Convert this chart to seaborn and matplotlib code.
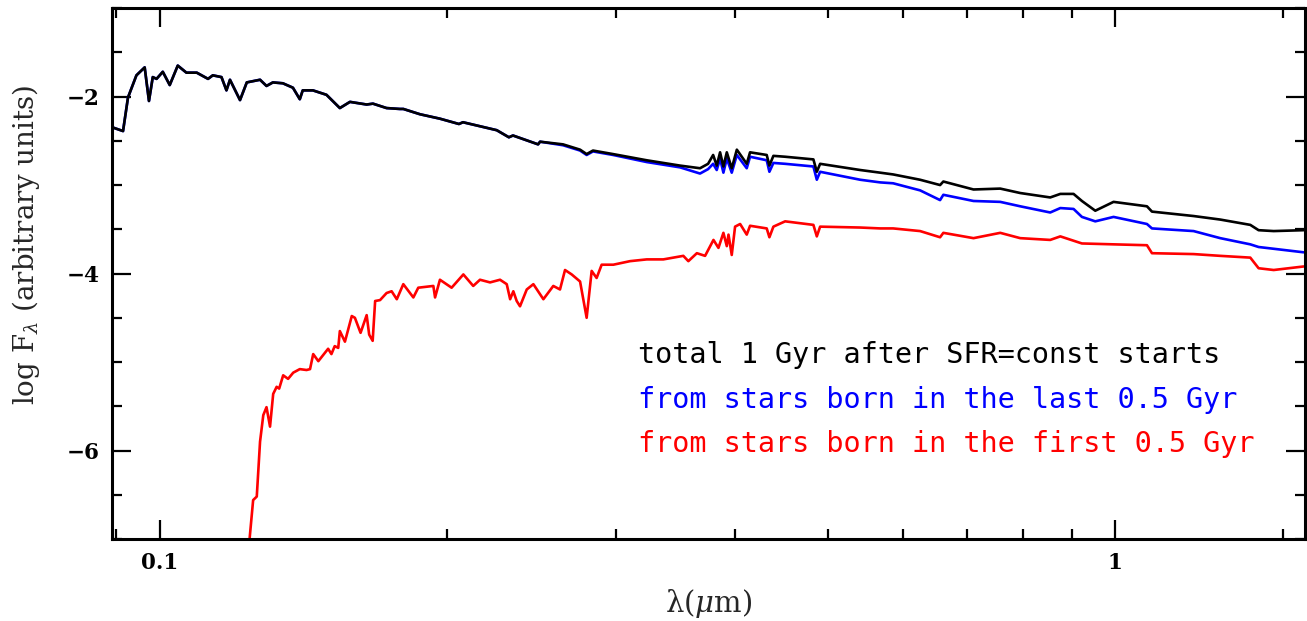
import numpy as np
import pandas as pd
import matplotlib
matplotlib.use("Agg")
import matplotlib.pyplot as plt
import seaborn as sns
from matplotlib.ticker import FixedLocator, NullFormatter, MultipleLocator

# ---- data ----
wl_tot = [0.0893, 0.0915, 0.0926, 0.0945, 0.0964, 0.0974, 0.0983, 0.0992, 0.1007, 0.1024,
          0.1044, 0.1066, 0.1093, 0.1123, 0.1136, 0.1160, 0.1174, 0.1184, 0.1213, 0.1233,
          0.1273, 0.1293, 0.1313, 0.1345, 0.1378, 0.1401, 0.1411, 0.1446, 0.1494, 0.1543,
          0.1581, 0.1646, 0.1671, 0.1727, 0.1783, 0.1798, 0.1872, 0.1964, 0.2056, 0.2076,
          0.2252, 0.2319, 0.2342, 0.2488, 0.2500, 0.2642, 0.2753, 0.2797, 0.2840, 0.2981,
          0.3233, 0.3503, 0.3676, 0.3748, 0.3794, 0.3827, 0.3858, 0.3889, 0.3921, 0.3968,
          0.4017, 0.4114, 0.4147, 0.4317, 0.4345, 0.4387, 0.4513, 0.4831, 0.4871, 0.4910,
          0.5408, 0.5675, 0.5855, 0.6248, 0.6556, 0.6608, 0.7106, 0.7579, 0.7953, 0.8549,
          0.8760, 0.9044, 0.9228, 0.9530, 0.9959, 1.0794, 1.0925, 1.2078, 1.2880, 1.3847,
          1.4127, 1.4650, 1.5746]
logf_tot = [-2.35, -2.39, -2.01, -1.76, -1.67, -2.05, -1.78, -1.80, -1.72, -1.87,
            -1.65, -1.73, -1.73, -1.80, -1.76, -1.78, -1.93, -1.81, -2.04, -1.84,
            -1.81, -1.88, -1.84, -1.85, -1.90, -2.03, -1.93, -1.93, -1.98, -2.13,
            -2.06, -2.09, -2.08, -2.13, -2.14, -2.14, -2.20, -2.25, -2.31, -2.29,
            -2.38, -2.46, -2.44, -2.54, -2.51, -2.54, -2.60, -2.65, -2.61, -2.65,
            -2.72, -2.78, -2.81, -2.76, -2.66, -2.78, -2.63, -2.79, -2.63, -2.81,
            -2.60, -2.76, -2.63, -2.66, -2.78, -2.67, -2.68, -2.71, -2.85, -2.76,
            -2.83, -2.86, -2.88, -2.94, -3.00, -2.96, -3.05, -3.04, -3.09, -3.14,
            -3.10, -3.10, -3.18, -3.29, -3.19, -3.24, -3.30, -3.35, -3.39, -3.45,
            -3.51, -3.52, -3.51]
logf_young = [-2.35, -2.39, -2.01, -1.76, -1.67, -2.05, -1.78, -1.80, -1.72, -1.87,
              -1.65, -1.73, -1.73, -1.80, -1.76, -1.78, -1.93, -1.81, -2.04, -1.84,
              -1.81, -1.88, -1.84, -1.85, -1.90, -2.03, -1.93, -1.93, -1.98, -2.13,
              -2.06, -2.09, -2.08, -2.13, -2.14, -2.14, -2.20, -2.25, -2.31, -2.29,
              -2.38, -2.46, -2.44, -2.54, -2.51, -2.55, -2.61, -2.66, -2.62, -2.66,
              -2.74, -2.80, -2.87, -2.82, -2.76, -2.83, -2.70, -2.86, -2.70, -2.86,
              -2.66, -2.81, -2.68, -2.72, -2.85, -2.75, -2.76, -2.79, -2.94, -2.85,
              -2.94, -2.97, -2.98, -3.06, -3.17, -3.11, -3.18, -3.19, -3.24, -3.31,
              -3.26, -3.27, -3.36, -3.41, -3.36, -3.44, -3.49, -3.52, -3.60, -3.67,
              -3.70, -3.72, -3.76]
wl_old = [0.1236, 0.1242, 0.1252, 0.1263, 0.1273, 0.1283, 0.1293, 0.1304, 0.1314, 0.1325,
          0.1333, 0.1346, 0.1362, 0.1379, 0.1401, 0.1424, 0.1436, 0.1447, 0.1465, 0.1500,
          0.1512, 0.1524, 0.1537, 0.1543, 0.1562, 0.1588, 0.1600, 0.1622, 0.1646, 0.1656,
          0.1670, 0.1680, 0.1700, 0.1727, 0.1748, 0.1770, 0.1798, 0.1842, 0.1864, 0.1933,
          0.1941, 0.1964, 0.2020, 0.2078, 0.2128, 0.2163, 0.2216, 0.2270, 0.2307, 0.2326,
          0.2344, 0.2363, 0.2382, 0.2421, 0.2460, 0.2520, 0.2581, 0.2623, 0.2655, 0.2698,
          0.2753, 0.2797, 0.2831, 0.2865, 0.2900, 0.2983, 0.3105, 0.3233, 0.3365, 0.3531,
          0.3574, 0.3648, 0.3721, 0.3797, 0.3843, 0.3889, 0.3921, 0.3937, 0.3968, 0.4000,
          0.4049, 0.4114, 0.4147, 0.4317, 0.4345, 0.4387, 0.4513, 0.4831, 0.4871, 0.4910,
          0.5408, 0.5675, 0.5855, 0.6248, 0.6556, 0.6608, 0.7106, 0.7579, 0.7953, 0.8549,
          0.8760, 0.9228, 0.9959, 1.0794, 1.0925, 1.2078, 1.2880, 1.3847, 1.4127, 1.4650,
          1.5746]
logf_old = [-7.25, -6.97, -6.56, -6.52, -5.90, -5.60, -5.51, -5.73, -5.36, -5.28,
            -5.30, -5.15, -5.19, -5.12, -5.08, -5.09, -5.08, -4.91, -4.99, -4.85,
            -4.91, -4.82, -4.84, -4.65, -4.77, -4.48, -4.50, -4.67, -4.47, -4.69,
            -4.76, -4.31, -4.30, -4.22, -4.20, -4.29, -4.12, -4.27, -4.16, -4.14,
            -4.27, -4.07, -4.16, -4.01, -4.14, -4.07, -4.10, -4.07, -4.12, -4.29,
            -4.20, -4.31, -4.37, -4.18, -4.12, -4.29, -4.14, -4.18, -3.96, -4.01,
            -4.09, -4.50, -3.97, -4.05, -3.90, -3.90, -3.86, -3.84, -3.84, -3.80,
            -3.86, -3.77, -3.80, -3.62, -3.71, -3.54, -3.69, -3.56, -3.79, -3.47,
            -3.44, -3.56, -3.46, -3.49, -3.59, -3.47, -3.41, -3.45, -3.58, -3.47,
            -3.48, -3.49, -3.49, -3.52, -3.59, -3.54, -3.60, -3.54, -3.60, -3.62,
            -3.58, -3.66, -3.67, -3.68, -3.77, -3.78, -3.80, -3.82, -3.94, -3.96,
            -3.92]

labels = ["total 1 Gyr after SFR=const starts",
          "from stars born in the last 0.5 Gyr",
          "from stars born in the first 0.5 Gyr"]
colors = ["black", "#0000ff", "#ff0000"]
x_major = [0.1, 1.0]
x_major_labels = ["0.1", "1"]
x_minor = [0.09, 0.2, 0.3, 0.4, 0.5, 0.6, 0.7, 0.8, 0.9, 1.5]
y_major = [-2, -4, -6]

# ---- style ----
sns.set_style("ticks")
plt.rcParams["font.family"] = ["DejaVu Serif"]
plt.rcParams["mathtext.fontset"] = "dejavuserif"

fig = plt.figure(figsize=(13.07, 6.21), dpi=100)
ax = fig.add_axes([0.0857, 0.132, 0.9128, 0.855])

df_old = pd.DataFrame({"wl": wl_old, "logf": logf_old})
df_young = pd.DataFrame({"wl": wl_tot, "logf": logf_young})
df_tot = pd.DataFrame({"wl": wl_tot, "logf": logf_tot})

sns.lineplot(data=df_old, x="wl", y="logf", ax=ax, color=colors[2], lw=1.9,
             estimator=None, sort=False)
sns.lineplot(data=df_young, x="wl", y="logf", ax=ax, color=colors[1], lw=1.9,
             estimator=None, sort=False)
sns.lineplot(data=df_tot, x="wl", y="logf", ax=ax, color=colors[0], lw=1.9,
             estimator=None, sort=False)

ax.set_xscale("log")
ax.set_xlim(0.0891, 1.58)
ax.set_ylim(-7.0, -1.0)

ax.xaxis.set_major_locator(FixedLocator(x_major))
ax.set_xticklabels(x_major_labels)
ax.xaxis.set_minor_locator(FixedLocator(x_minor))
ax.xaxis.set_minor_formatter(NullFormatter())
ax.yaxis.set_major_locator(FixedLocator(y_major))
ax.yaxis.set_minor_locator(MultipleLocator(0.5))

ax.tick_params(which="both", direction="in", top=True, right=True, width=1.6,
               colors="black", labelsize=15.5, pad=9)
ax.tick_params(which="major", length=14)
ax.tick_params(which="minor", length=7.5)
for t in ax.get_xticklabels() + ax.get_yticklabels():
    t.set_fontweight("bold")
for s in ax.spines.values():
    s.set_linewidth(2.2)
    s.set_color("black")

ax.set_xlabel(r"λ($\mu$m)", fontsize=21, labelpad=10)
ax.set_ylabel(r"log F$_\lambda$ (arbitrary units)", fontsize=20)
ax.yaxis.set_label_coords(-0.0587, 0.554)

for i, (lab, c) in enumerate(zip(labels, colors)):
    ax.text(0.441, 0.331 - i * 0.0835, lab, color=c, fontsize=20.5,
            family=["DejaVu Sans Mono"],
            transform=ax.transAxes, va="baseline", ha="left")

fig.savefig("out.png", dpi=100)
